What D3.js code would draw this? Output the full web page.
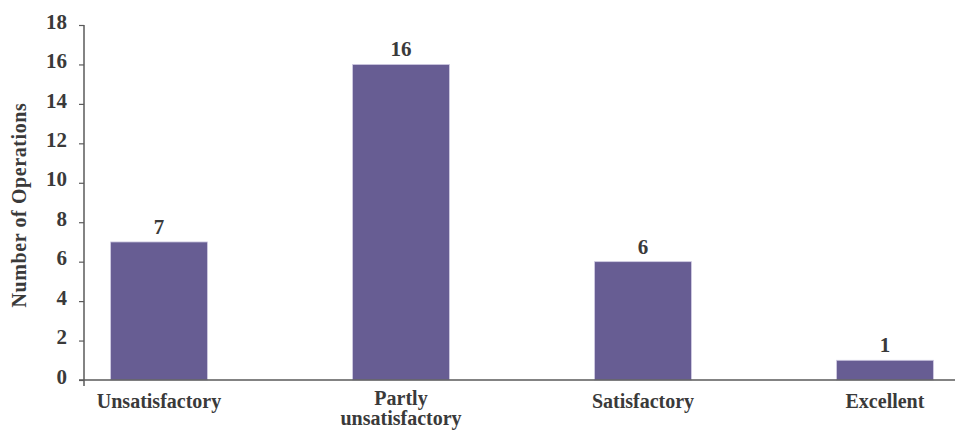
<!DOCTYPE html>
<html>
<head>
<meta charset="utf-8">
<script src="https://cdn.jsdelivr.net/npm/d3@7"></script>
<style>
  html, body { margin: 0; padding: 0; background: #fff; }
  svg text { font-family: "Liberation Serif", "DejaVu Serif", serif; font-weight: bold; fill: #3a3a3a; }
</style>
</head>
<body>
<svg id="chart" width="955" height="430"></svg>
<script>
// Ratings of operations and how many fall in each
const categories = [["Unsatisfactory"], ["Partly", "unsatisfactory"], ["Satisfactory"], ["Excellent"]];
const counts = [7, 16, 6, 1];
const yTicks = [0, 2, 4, 6, 8, 10, 12, 14, 16, 18];

const svg = d3.select("#chart");
const plotLeft = 84, plotRight = 960, plotTop = 25, plotBottom = 380;

const labels = categories.map(c => c.join(" "));

const x = d3.scaleBand()
  .domain(labels)
  .range([plotLeft, plotRight])
  .paddingInner(0.6)
  .paddingOuter(0.11);

const y = d3.scaleLinear().domain([0, 18]).range([plotBottom, plotTop]);

// bars
svg.append("g").selectAll("rect")
  .data(counts)
  .join("rect")
  .attr("x", (d, i) => x(labels[i]))
  .attr("y", d => y(d))
  .attr("width", x.bandwidth())
  .attr("height", d => y(0) - y(d))
  .attr("fill", "#675d93")
  .attr("stroke", "#cfcae2")
  .attr("stroke-width", 0.8);

// value labels
svg.append("g").selectAll("text")
  .data(counts)
  .join("text")
  .attr("x", (d, i) => x(labels[i]) + x.bandwidth() / 2)
  .attr("y", d => y(d) - 8)
  .attr("text-anchor", "middle")
  .style("font-size", "21px")
  .text(d => d);

// y axis
const yAxis = d3.axisLeft(y).tickValues(yTicks).tickSize(5).tickPadding(12);
const gy = svg.append("g").attr("transform", `translate(${plotLeft},0)`).call(yAxis);
gy.select(".domain").remove();
gy.selectAll(".tick line").attr("stroke", "#5a5a5a").attr("stroke-width", 1.2);
gy.selectAll(".tick text").style("font-size", "21px").attr("fill", "#3a3a3a").attr("dy", "0.15em")
  .style("font-family", "\"Liberation Serif\", serif").style("font-weight", "bold");
gy.append("line").attr("x1", 0).attr("x2", 0).attr("y1", plotTop).attr("y2", plotBottom + 6)
  .attr("stroke", "#5a5a5a").attr("stroke-width", 1.5);

// x axis baseline
svg.append("line").attr("x1", plotLeft - 5).attr("x2", 955).attr("y1", plotBottom).attr("y2", plotBottom)
  .attr("stroke", "#5a5a5a").attr("stroke-width", 1.5);

// category labels (second line sits tight against the first)
const cat = svg.append("g").selectAll("text")
  .data(categories)
  .join("text")
  .attr("x", (d, i) => x(labels[i]) + x.bandwidth() / 2)
  .attr("y", d => d.length > 1 ? 405 : 408)
  .attr("text-anchor", "middle")
  .style("font-size", "20px");
cat.selectAll("tspan")
  .data(d => d)
  .join("tspan")
  .attr("x", function () { return d3.select(this.parentNode).attr("x"); })
  .attr("dy", (d, i) => i === 0 ? 0 : 20)
  .text(d => d);

// y axis title
svg.append("text")
  .attr("transform", `translate(26,205) rotate(-90)`)
  .attr("text-anchor", "middle")
  .style("font-size", "20px")
  .style("letter-spacing", "0.6px")
  .text("Number of Operations");
</script>
</body>
</html>
